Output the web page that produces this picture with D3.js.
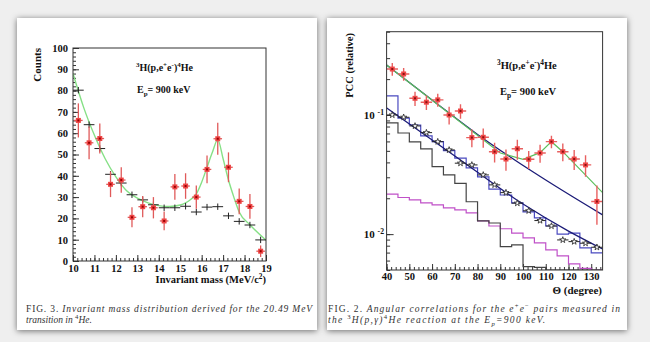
<!DOCTYPE html>
<html lang="en">
<head>
<meta charset="utf-8">
<script src="https://cdn.jsdelivr.net/npm/d3@7"></script>
<style>
  body { margin: 0; background: #efefef; }
  svg { display: block; font-family: "Liberation Serif", "DejaVu Serif", serif; }
</style>
</head>
<body>
<script>
// ---------- FIG. 3 : invariant mass ----------
var massCenters = [10.25, 10.75, 11.25, 11.75, 12.25, 12.75, 13.25, 13.75, 14.25,
                   14.75, 15.25, 15.75, 16.25, 16.75, 17.25, 17.75, 18.25, 18.75];
var massCounts = [66, 55.5, 57.5, 36, 38, 20.5, 25.5, 25, 18.8,
                  34.8, 35.2, 30, 43, 57.4, 44, 28, 25.6, 4.6];
var massErrors = [8, 7.7, 7, 6, 6, 4.7, 5, 5, 4.4,
                  6, 6, 5.5, 6.5, 7.5, 7, 6, 5.8, 2.7];
var massBackground = [80.2, 64, 52.8, 40.7, 36.6, 31.1, 28.7, 26.4, 25,
                      25, 25.7, 23, 25.3, 25.5, 21.2, 18.6, 16.9, 9.9];
var massFitX = [10, 10.5, 11, 11.5, 12, 12.5, 13, 13.5, 14, 14.5, 15, 15.25, 15.5,
                15.75, 16, 16.25, 16.5, 16.75, 17, 17.25, 17.5, 17.75, 18.25, 19];
var massFitY = [88, 72, 59, 48, 39.5, 33, 29.5, 27.3, 26, 25.6, 26.3, 27.3, 29,
                31.5, 37, 44, 51, 57, 48, 38, 30, 23, 17, 9.8];
var massTicks = [10, 11, 12, 13, 14, 15, 16, 17, 18, 19];
var countTicks = [0, 10, 20, 30, 40, 50, 60, 70, 80, 90, 100];

// ---------- FIG. 2 : angular correlation ----------
var thetaCenters = [42.5, 47.5, 52.5, 57.5, 62.5, 67.5, 72.5, 77.5, 82.5, 87.5,
                    92.5, 97.5, 102.5, 107.5, 112.5, 117.5, 122.5, 127.5, 132.5];
var binEdges = [40, 45, 50, 55, 60, 65, 70, 75, 80, 85, 90, 95, 100, 105, 110, 115, 120, 125, 130, 135];
var pccData = [0.243, 0.221, 0.138, 0.128, 0.134, 0.100, 0.108, 0.0646, 0.0650, 0.0492,
               0.0427, 0.0521, 0.0425, 0.0480, 0.0597, 0.0492, 0.0427, 0.0381, 0.0188];
var pccErrors = [0.030, 0.027, 0.019, 0.018, 0.017, 0.017, 0.015, 0.011, 0.012, 0.0093,
                 0.0087, 0.0099, 0.0073, 0.0083, 0.0072, 0.0084, 0.0081, 0.0078, 0.0068];
var pccSimulated = [0.100, 0.0957, 0.0809, 0.0711, 0.0597, 0.0509, 0.0394, 0.0381, 0.0314, 0.0259,
                    0.0223, 0.0182, 0.0157, 0.0130, 0.0117, 0.00894, 0.00865, 0.00839, 0.00776];
var histBlue = [0.1445, 0.0940, 0.0824, 0.0667, 0.0597, 0.0502, 0.0434, 0.0360, 0.0302, 0.0239,
                0.0213, 0.0183, 0.0154, 0.0137, 0.0117, 0.0100, 0.0102, 0.00766, 0.00695];
var histBlack = [0.0857, 0.0706, 0.0594, 0.0519, 0.0368, 0.0314, 0.0267, 0.0187, 0.0129, 0.0124,
                 0.00785, 0.00812, 0.00533, 0.00526, 0.001, 0.001, 0.001, 0.001, 0.001];
var histMagenta = [0.0217, 0.0203, 0.0194, 0.0183, 0.0176, 0.0166, 0.0160, 0.0151, 0.0129, 0.0117,
                   0.0111, 0.0102, 0.00929, 0.00845, 0.00738, 0.00657, 0.00562, 0.00515, 0.001];
var fitGreenX = [40, 90, 100, 107.5, 112.5, 117.5, 135];
var fitGreenY = [0.263, 0.0480, 0.0424, 0.0483, 0.0597, 0.0492, 0.0223];
var navyUpperX = [40, 60, 80, 105, 135];
var navyUpperY = [0.263, 0.1337, 0.0687, 0.0327, 0.0145];
var navyLowerX = [40, 70, 100, 120, 135];
var navyLowerY = [0.1146, 0.0453, 0.0179, 0.0106, 0.0075];
var thetaTicks = [40, 50, 60, 70, 80, 90, 100, 110, 120, 130];

var svg = d3.select("body").append("svg")
    .attr("width", 650)
    .attr("height", 342);

var defs = svg.append("defs");
var shadow = defs.append("filter").attr("id", "shadow")
    .attr("x", "-10%").attr("y", "-10%").attr("width", "120%").attr("height", "120%");
shadow.append("feDropShadow")
    .attr("dx", 0).attr("dy", 1).attr("stdDeviation", 3)
    .attr("flood-color", "#000").attr("flood-opacity", 0.55);

svg.append("rect").attr("x", 17).attr("y", 18).attr("width", 300).attr("height", 312)
    .attr("fill", "#fff").attr("filter", "url(#shadow)");
svg.append("rect").attr("x", 327).attr("y", 18).attr("width", 300).attr("height", 312)
    .attr("fill", "#fff").attr("filter", "url(#shadow)");

// text with super/subscripts
function rich(sel, parts) {
    var shift = 0;
    parts.forEach(function(p) {
        var t = sel.append("tspan").text(p.t);
        var want = p.sup ? -4 : (p.sub ? 3 : 0);
        if (want !== shift) { t.attr("dy", want - shift); shift = want; }
        if (p.sup || p.sub) t.style("font-size", "70%");
        if (p.it) t.style("font-style", "italic");
    });
    return sel;
}

// ================= left panel =================
var L = svg.append("g");
var xm = d3.scaleLinear().domain([10, 19]).range([73, 266]);
var ym = d3.scaleLinear().domain([0, 100]).range([261, 48]);

defs.append("clipPath").attr("id", "clipL").append("rect")
    .attr("x", 73).attr("y", 48).attr("width", 193).attr("height", 213);

L.append("g").attr("transform", "translate(73,0)")
    .call(d3.axisLeft(ym).tickValues(d3.range(0, 101, 2)).tickSize(-3).tickFormat(""));
L.append("g").attr("transform", "translate(73,0)")
    .call(d3.axisLeft(ym).tickValues(countTicks).tickSize(-6).tickPadding(5).tickFormat(d3.format("d")));
L.append("g").attr("transform", "translate(0,261)")
    .call(d3.axisBottom(xm).tickValues(d3.range(10, 19.01, 0.2)).tickSize(-3).tickFormat(""));
L.append("g").attr("transform", "translate(0,261)")
    .call(d3.axisBottom(xm).tickValues(massTicks).tickSize(-6).tickPadding(4).tickFormat(d3.format("d")));
L.selectAll(".domain").remove();
L.selectAll(".tick line").attr("stroke", "#333");
L.selectAll(".tick text").attr("fill", "#111")
    .style("font-size", "10.5px").style("font-weight", "bold")
    .style("font-family", "'Liberation Serif', serif");

var plotL = L.append("g").attr("clip-path", "url(#clipL)");

// green fit
plotL.append("path")
    .datum(massFitX.map(function(x, i) { return [x, massFitY[i]]; }))
    .attr("fill", "none").attr("stroke", "#86e086").attr("stroke-width", 1.4)
    .attr("d", d3.line().x(function(d) { return xm(d[0]); }).y(function(d) { return ym(d[1]); })
        .curve(d3.curveMonotoneX));

// black background points
var bk = plotL.selectAll(".bk").data(massCenters).enter().append("g");
bk.append("line")
    .attr("x1", function(d) { return xm(d - 0.25); })
    .attr("x2", function(d) { return xm(d + 0.25); })
    .attr("y1", function(d, i) { return ym(massBackground[i]); })
    .attr("y2", function(d, i) { return ym(massBackground[i]); })
    .attr("stroke", "#222").attr("stroke-width", 1);
bk.append("line")
    .attr("x1", function(d) { return xm(d); })
    .attr("x2", function(d) { return xm(d); })
    .attr("y1", function(d, i) { return ym(massBackground[i] + 1.5); })
    .attr("y2", function(d, i) { return ym(massBackground[i] - 1.5); })
    .attr("stroke", "#222").attr("stroke-width", 1);

// red data
var rd = plotL.selectAll(".rd").data(massCenters).enter().append("g");
rd.append("line")
    .attr("x1", function(d) { return xm(d); })
    .attr("x2", function(d) { return xm(d); })
    .attr("y1", function(d, i) { return ym(massCounts[i] + massErrors[i]); })
    .attr("y2", function(d, i) { return ym(massCounts[i] - massErrors[i]); })
    .attr("stroke", "#e05a5a").attr("stroke-width", 1.3);
rd.append("line")
    .attr("x1", function(d) { return xm(d - 0.2); })
    .attr("x2", function(d) { return xm(d + 0.2); })
    .attr("y1", function(d, i) { return ym(massCounts[i]); })
    .attr("y2", function(d, i) { return ym(massCounts[i]); })
    .attr("stroke", "#e05a5a").attr("stroke-width", 1.3);
rd.append("rect")
    .attr("x", function(d) { return xm(d) - 2.5; })
    .attr("y", function(d, i) { return ym(massCounts[i]) - 2.5; })
    .attr("width", 5).attr("height", 5).attr("fill", "#ee4444");
rd.append("rect")
    .attr("x", function(d) { return xm(d) - 1; })
    .attr("y", function(d, i) { return ym(massCounts[i]) - 1; })
    .attr("width", 2).attr("height", 2).attr("fill", "#990000");

L.append("rect").attr("x", 73).attr("y", 48).attr("width", 193).attr("height", 213)
    .attr("fill", "none").attr("stroke", "#333").attr("stroke-width", 1);

L.append("text").attr("transform", "translate(41,48) rotate(-90)")
    .attr("text-anchor", "end").attr("fill", "#111")
    .style("font-size", "11px").style("font-weight", "bold").text("Counts");
rich(L.append("text").attr("x", 266).attr("y", 283).attr("text-anchor", "end").attr("fill", "#111")
    .style("font-size", "10.5px").style("font-weight", "bold"),
    [{t: "Invariant mass (MeV/c"}, {t: "2", sup: true}, {t: ")"}]);
rich(L.append("text").attr("x", 136).attr("y", 71).attr("fill", "#111")
    .style("font-size", "10px").style("font-weight", "bold"),
    [{t: "3", sup: true}, {t: "H(p,e"}, {t: "+", sup: true}, {t: "e"}, {t: "-", sup: true},
     {t: ")"}, {t: "4", sup: true}, {t: "He"}]);
rich(L.append("text").attr("x", 137).attr("y", 93).attr("fill", "#111")
    .style("font-size", "10px").style("font-weight", "bold"),
    [{t: "E"}, {t: "p", sub: true}, {t: "= 900 keV"}]);

rich(L.append("text").attr("x", 26).attr("y", 311.5).attr("fill", "#333")
    .attr("textLength", 286).attr("lengthAdjust", "spacing").style("font-size", "9.5px"),
    [{t: "FIG. 3.  "}, {t: "Invariant mass distribution derived for the 20.49 MeV", it: true}]);
rich(L.append("text").attr("x", 26).attr("y", 322.5).attr("fill", "#333")
    .style("font-size", "9.5px"),
    [{t: "transition in ", it: true}, {t: "4", sup: true}, {t: "He.", it: true}]);

// ================= right panel =================
var R = svg.append("g");
var xt = d3.scaleLinear().domain([40, 135]).range([386.6, 602.6]);
var yp = d3.scaleLog().domain([0.005, 0.5]).range([270, 31.7]).clamp(true);

defs.append("clipPath").attr("id", "clipR").append("rect")
    .attr("x", 386.6).attr("y", 31.7).attr("width", 216).attr("height", 238.3);

var minorLog = [];
[0.001, 0.01, 0.1].forEach(function(dec) {
    for (var k = 1; k <= 9; k++) {
        var v = +(dec * k).toPrecision(3);
        if (v >= 0.005 && v <= 0.5) minorLog.push(v);
    }
});
R.append("g").attr("transform", "translate(386.6,0)")
    .call(d3.axisLeft(yp).tickValues(minorLog).tickSize(-3.5).tickFormat(""));
R.append("g").attr("transform", "translate(386.6,0)")
    .call(d3.axisLeft(yp).tickValues([0.01, 0.1]).tickSize(-7).tickFormat(""));
R.append("g").attr("transform", "translate(0,270)")
    .call(d3.axisBottom(xt).tickValues(d3.range(40, 135, 2)).tickSize(-3).tickFormat(""));
R.append("g").attr("transform", "translate(0,270)")
    .call(d3.axisBottom(xt).tickValues(thetaTicks).tickSize(-6).tickPadding(3).tickFormat(d3.format("d")));
R.selectAll(".domain").remove();
R.selectAll(".tick line").attr("stroke", "#333");
R.selectAll(".tick text").attr("fill", "#111")
    .style("font-size", "10.5px").style("font-weight", "bold")
    .style("font-family", "'Liberation Serif', serif");

[[0.1, "-1"], [0.01, "-2"]].forEach(function(t) {
    rich(R.append("text").attr("x", 384).attr("y", yp(t[0]) + 4).attr("text-anchor", "end")
        .attr("fill", "#111").style("font-size", "11px").style("font-weight", "bold"),
        [{t: "10 "}, {t: t[1], sup: true}]);
});

var plotR = R.append("g").attr("clip-path", "url(#clipR)");

function histPoints(vals) {
    var pts = vals.map(function(v, i) { return [binEdges[i], v]; });
    pts.push([binEdges[binEdges.length - 1], vals[vals.length - 1]]);
    return pts;
}
var stepLine = d3.line().x(function(d) { return xt(d[0]); }).y(function(d) { return yp(d[1]); })
    .curve(d3.curveStepAfter);
var smoothLine = d3.line().x(function(d) { return xt(d[0]); }).y(function(d) { return yp(d[1]); })
    .curve(d3.curveMonotoneX);
var straightLine = d3.line().x(function(d) { return xt(d[0]); }).y(function(d) { return yp(d[1]); });

plotR.append("path").datum(histPoints(histMagenta)).attr("d", stepLine)
    .attr("fill", "none").attr("stroke", "#c050c8").attr("stroke-width", 1.2);
plotR.append("path").datum(histPoints(histBlack)).attr("d", stepLine)
    .attr("fill", "none").attr("stroke", "#444").attr("stroke-width", 1.2);
plotR.append("path").datum(histPoints(histBlue)).attr("d", stepLine)
    .attr("fill", "none").attr("stroke", "#4a4ac0").attr("stroke-width", 1.2);

plotR.append("path").datum(navyLowerX.map(function(x, i) { return [x, navyLowerY[i]]; }))
    .attr("d", smoothLine).attr("fill", "none").attr("stroke", "#1c1c78").attr("stroke-width", 1.3);
plotR.append("path").datum(navyUpperX.map(function(x, i) { return [x, navyUpperY[i]]; }))
    .attr("d", smoothLine).attr("fill", "none").attr("stroke", "#1c1c78").attr("stroke-width", 1.3);
plotR.append("path").datum(fitGreenX.map(function(x, i) { return [x, fitGreenY[i]]; }))
    .attr("d", straightLine).attr("fill", "none").attr("stroke", "#5cc05c").attr("stroke-width", 1.2);

// simulated points (open stars)
var st = plotR.selectAll(".st").data(thetaCenters).enter().append("g");
st.append("line")
    .attr("x1", function(d) { return xt(d - 2.5); })
    .attr("x2", function(d) { return xt(d + 2.5); })
    .attr("y1", function(d, i) { return yp(pccSimulated[i]); })
    .attr("y2", function(d, i) { return yp(pccSimulated[i]); })
    .attr("stroke", "#222").attr("stroke-width", 1);
st.append("path")
    .attr("d", d3.symbol().type(d3.symbolStar).size(12))
    .attr("transform", function(d, i) { return "translate(" + xt(d) + "," + yp(pccSimulated[i]) + ")"; })
    .attr("fill", "#fff").attr("stroke", "#222").attr("stroke-width", 0.8);

// measured points
var rp = plotR.selectAll(".rp").data(thetaCenters).enter().append("g");
rp.append("line")
    .attr("x1", function(d) { return xt(d); })
    .attr("x2", function(d) { return xt(d); })
    .attr("y1", function(d, i) { return yp(pccData[i] + pccErrors[i]); })
    .attr("y2", function(d, i) { return yp(pccData[i] - pccErrors[i]); })
    .attr("stroke", "#e86060").attr("stroke-width", 1.4);
rp.append("line")
    .attr("x1", function(d) { return xt(d - 2.5); })
    .attr("x2", function(d) { return xt(d + 2.5); })
    .attr("y1", function(d, i) { return yp(pccData[i]); })
    .attr("y2", function(d, i) { return yp(pccData[i]); })
    .attr("stroke", "#e86060").attr("stroke-width", 1.4);
rp.append("rect")
    .attr("x", function(d) { return xt(d) - 2.5; })
    .attr("y", function(d, i) { return yp(pccData[i]) - 2.5; })
    .attr("width", 5).attr("height", 5).attr("fill", "#f04848");
rp.append("rect")
    .attr("x", function(d) { return xt(d) - 1; })
    .attr("y", function(d, i) { return yp(pccData[i]) - 1; })
    .attr("width", 2).attr("height", 2).attr("fill", "#8a1010");

R.append("rect").attr("x", 386.6).attr("y", 31.7).attr("width", 216).attr("height", 238.3)
    .attr("fill", "none").attr("stroke", "#333").attr("stroke-width", 1);

R.append("text").attr("transform", "translate(353,33) rotate(-90)")
    .attr("text-anchor", "end").attr("fill", "#111")
    .style("font-size", "10.5px").style("font-weight", "bold").text("PCC (relative)");
R.append("text").attr("x", 602).attr("y", 294).attr("text-anchor", "end").attr("fill", "#111")
    .style("font-size", "11px").style("font-weight", "bold").text("\u0398 (degree)");
rich(R.append("text").attr("x", 497).attr("y", 69).attr("fill", "#111")
    .style("font-size", "10.5px").style("font-weight", "bold"),
    [{t: "3", sup: true}, {t: "H(p,e"}, {t: "+", sup: true}, {t: "e"}, {t: "-", sup: true},
     {t: ")"}, {t: "4", sup: true}, {t: "He"}]);
rich(R.append("text").attr("x", 500).attr("y", 95).attr("fill", "#111")
    .style("font-size", "10.5px").style("font-weight", "bold"),
    [{t: "E"}, {t: "p", sub: true}, {t: "= 900 keV"}]);

rich(R.append("text").attr("x", 328).attr("y", 311.5).attr("fill", "#333")
    .attr("textLength", 292).attr("lengthAdjust", "spacing").style("font-size", "9.5px"),
    [{t: "FIG. 2.  "}, {t: "Angular correlations for the e", it: true}, {t: "+", sup: true},
     {t: "e", it: true}, {t: "\u2212", sup: true}, {t: " pairs measured in", it: true}]);
rich(R.append("text").attr("x", 328).attr("y", 322.5).attr("fill", "#333")
    .attr("textLength", 217).attr("lengthAdjust", "spacing").style("font-size", "9.5px"),
    [{t: "the ", it: true}, {t: "3", sup: true}, {t: "H(p,\u03b3)", it: true}, {t: "4", sup: true},
     {t: "He reaction at the E", it: true}, {t: "p", sub: true, it: true}, {t: "=900 keV.", it: true}]);
</script>
</body>
</html>
